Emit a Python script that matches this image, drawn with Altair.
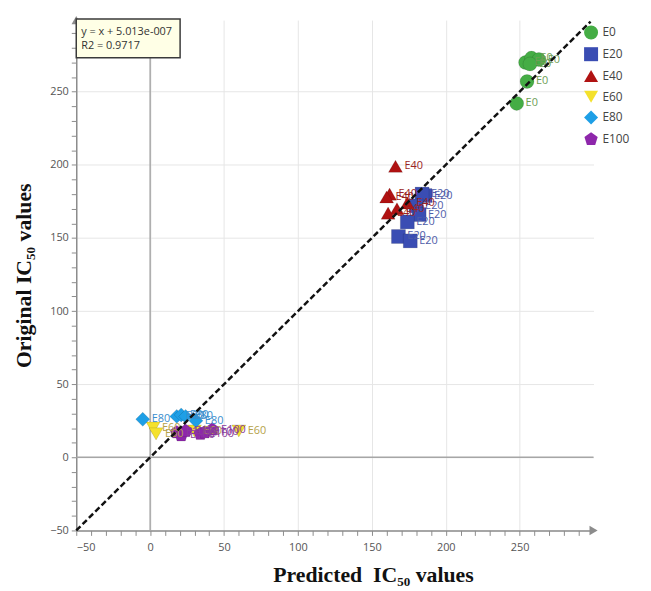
import altair as alt
import pandas as pd

# ---------------- data ----------------
series = ["E0", "E20", "E40", "E60", "E80", "E100"]
e0_pred = [248, 255, 254, 258, 263, 257]
e0_orig = [242, 257, 270, 273, 272, 269]
e20_pred = [186, 184, 180, 182, 174, 168, 176]
e20_orig = [179, 180, 172, 166, 161, 151, 148]
e40_pred = [166, 162, 160, 167, 174, 161]
e40_orig = [199, 180, 178, 170, 174, 167]
e60_pred = [2, 4, 30, 60]
e60_orig = [20, 16, 18, 18]
e80_pred = [-5, 18, 21, 24, 31]
e80_orig = [26, 28, 29, 28, 25]
e100_pred = [18, 21, 24, 34, 37, 42]
e100_orig = [17, 15, 18, 16, 17, 19]

fit_x = [-50, 298]
fit_y = [-50, 298]
fit_text = "y = x + 5.013e-007\nR2 = 0.9717"

marker_colors = ["#45AD45", "#3A4DB3", "#B01212", "#F4E12C", "#1E9FE6", "#8E27AB"]
label_colors = ["#6E9E55", "#4E5CA8", "#9A2424", "#B5A24A", "#3A8ECE", "#8A3C9C"]
pentagon = "M0,-1L0.951,-0.309L0.588,0.809L-0.588,0.809L-0.951,-0.309Z"
shapes = ["circle", "square", "triangle-up", "triangle-down", "diamond", pentagon]

preds = [e0_pred, e20_pred, e40_pred, e60_pred, e80_pred, e100_pred]
origs = [e0_orig, e20_orig, e40_orig, e60_orig, e80_orig, e100_orig]
rows = []
for name, xs, ys in zip(series, preds, origs):
    for x, y in zip(xs, ys):
        rows.append({"series": name, "pred": x, "orig": y})
df = pd.DataFrame(rows)

XDOM = [-50, 300]
YDOM = [-50, 299]

axis_common = dict(
    domainColor="#8c8c8c", domainWidth=1.5, tickColor="#8c8c8c", tickSize=5,
    labelFont="Open Sans", labelFontSize=11, labelColor="#555555",
    gridColor="#e6e6e6",
    gridOpacity={"condition": {"test": "datum.value % 50 === 0", "value": 1}, "value": 0},
    labelExpr="datum.value % 50 === 0 ? datum.label : ''",
    titleFont="Liberation Serif", titleFontWeight="bold", titleFontSize=22, titleColor="#111111",
)


def x_enc(field):
    return alt.X(field, type="quantitative", scale=alt.Scale(domain=XDOM, nice=False, zero=False),
                 axis=alt.Axis(values=list(range(-50, 300, 10)), titleX=300, titleY=52,
                               labelPadding=6, titleBaseline="alphabetic", titleAlign="center",
                               **axis_common),
                 title="Predicted\u00a0 IC₅₀ values")


def y_enc(field):
    return alt.Y(field, type="quantitative", scale=alt.Scale(domain=YDOM, nice=False, zero=False),
                 axis=alt.Axis(values=list(range(-50, 299, 10)), titlePadding=14, labelPadding=3,
                               **axis_common),
                 title="Original IC₅₀ values")


zero_df = pd.DataFrame({"zero": [0]})
zero_v = alt.Chart(zero_df).mark_rule(color="#a6a6a6", strokeWidth=1.5).encode(x=x_enc("zero"))
zero_h = alt.Chart(zero_df).mark_rule(color="#a6a6a6", strokeWidth=1.5).encode(y=y_enc("zero"))

legend = alt.Legend(orient="none", legendX=513, legendY=5, title=None, symbolSize=200,
                    labelFont="Open Sans", labelFontSize=12, labelColor="#444444",
                    rowPadding=7, symbolStrokeWidth=0, labelOffset=4)

points = alt.Chart(df).mark_point(filled=True, size=200, opacity=1, stroke="#00000033",
                                  strokeWidth=0.6).encode(
    x=x_enc("pred"), y=y_enc("orig"),
    color=alt.Color("series:N", sort=series, scale=alt.Scale(domain=series, range=marker_colors),
                    legend=legend),
    shape=alt.Shape("series:N", sort=series, scale=alt.Scale(domain=series, range=shapes),
                    legend=legend),
)

labels = alt.Chart(df).mark_text(align="left", baseline="middle", dx=9, font="Open Sans",
                                 fontSize=11).encode(
    x=x_enc("pred"), y=y_enc("orig"), text="series:N",
    fill=alt.Fill("series:N", scale=alt.Scale(domain=series, range=label_colors), legend=None),
)

fit_df = pd.DataFrame({"fx": fit_x, "fy": fit_y})
fit = alt.Chart(fit_df).mark_line(color="#111111", strokeWidth=2.5, strokeDash=[6, 3]).encode(
    x=x_enc("fx"), y=y_enc("fy"))

arrow_r = alt.Chart(pd.DataFrame({"ax": [XDOM[1]], "ay": [YDOM[0]]})).mark_point(
    shape="triangle-right", filled=True, size=90, color="#8c8c8c", opacity=1).encode(
    x=x_enc("ax"), y=y_enc("ay"))
arrow_u = alt.Chart(pd.DataFrame({"ax": [XDOM[0]], "ay": [YDOM[1]]})).mark_point(
    shape="triangle-up", filled=True, size=90, color="#8c8c8c", opacity=1).encode(
    x=x_enc("ax"), y=y_enc("ay"))

box_df = pd.DataFrame({"line": [fit_text]})
box = alt.Chart(box_df).mark_rect(
    fill="#FFFFE6", stroke="#3a3a3a", strokeWidth=1.5).encode(
    x=alt.value(0), x2=alt.value(105), y=alt.value(-1), y2=alt.value(38))
box_text = alt.Chart(box_df).mark_text(align="left", baseline="middle", font="Open Sans",
                                       fontSize=11, color="#333333", lineBreak="\n",
                                       lineHeight=14).encode(
    x=alt.value(5), y=alt.value(12), text="line:N")

chart = alt.layer(zero_v, zero_h, points, labels, fit, arrow_r, arrow_u, box, box_text).properties(
    width=523, height=516, autosize="none",
    padding={"left": 69, "top": 9, "right": 50, "bottom": 56},
).configure_view(stroke=None)

chart.save("out.html", embed_options={"renderer": "svg", "actions": False})
